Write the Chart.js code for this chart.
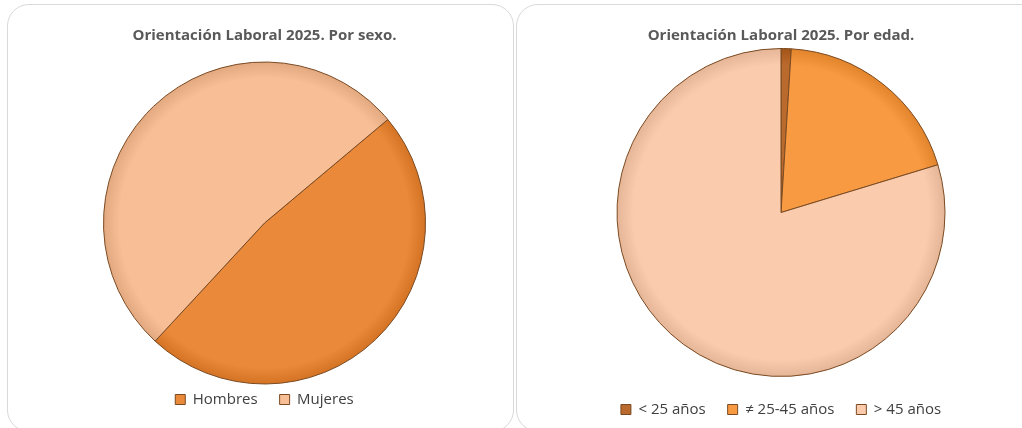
<!DOCTYPE html>
<html>
<head>
<meta charset="utf-8">
<script src="https://cdn.jsdelivr.net/npm/chart.js@4.4.1/dist/chart.umd.min.js"></script>
<style>
  html, body { margin: 0; padding: 0; background: #ffffff; }
  body { width: 1022px; height: 428px; position: relative; overflow: hidden; }
  .panel {
    position: absolute;
    top: 4px;
    height: 428px;
    border: 1.5px solid #d9d9d9;
    border-radius: 22px;
    box-sizing: border-box;
    background: #fff;
  }
  #panel-sexo { left: 7px; width: 507px; }
  #panel-edad { left: 516px; width: 530px; }
  canvas { display: block; }
</style>
</head>
<body>
<div class="panel" id="panel-sexo"><canvas id="chart-sexo"></canvas></div>
<div class="panel" id="panel-edad"><canvas id="chart-edad"></canvas></div>

<script>
// Data (percentages, estimated)
const sexoLabels = ['Hombres', 'Mujeres'];
const sexoValues = [48, 52];
const sexoColors = ['#EA893A', '#F8BF97'];

const edadLabels = ['< 25 años', '≠ 25-45 años', '> 45 años'];
const edadValues = [1, 19.3, 79.7];
const edadColors = ['#B96A2C', '#F89A42', '#FBCBAD'];

const titleSexo = 'Orientación Laboral 2025. Por sexo.';
const titleEdad = 'Orientación Laboral 2025. Por edad.';

const FONT = '"Open Sans", "Noto Sans", sans-serif';

// Soft bevel: darker rim
function shade(hex, amt) {
  const n = parseInt(hex.slice(1), 16);
  let r = (n >> 16) + amt, g = ((n >> 8) & 255) + amt, b = (n & 255) + amt;
  r = Math.max(0, Math.min(255, r));
  g = Math.max(0, Math.min(255, g));
  b = Math.max(0, Math.min(255, b));
  return `rgb(${r},${g},${b})`;
}

function radialFill(colors, radius) {
  return (context) => {
    const chart = context.chart;
    const base = colors[context.dataIndex];
    const area = chart.chartArea;
    if (!area) { return base; }
    const cx = (area.left + area.right) / 2;
    const cy = (area.top + area.bottom) / 2;
    if (!isFinite(cx) || !isFinite(cy)) { return base; }
    const g = chart.ctx.createRadialGradient(cx, cy, 0, cx, cy, radius);
    g.addColorStop(0, base);
    g.addColorStop(0.9, base);
    g.addColorStop(1, shade(base, -22));
    return g;
  };
}

function makePie(canvasId, panelId, labels, values, colors, title, opts) {
  const panel = document.getElementById(panelId);
  const canvas = document.getElementById(canvasId);
  const w = panel.clientWidth;
  const h = opts.height || panel.clientHeight;
  canvas.width = w;
  canvas.height = h;
  canvas.style.width = w + 'px';
  canvas.style.height = h + 'px';

  return new Chart(canvas.getContext('2d'), {
    type: 'pie',
    data: {
      labels: labels,
      datasets: [{
        data: values,
        radius: opts.radius,
        clip: false,
        backgroundColor: radialFill(colors, opts.radius),
        borderColor: '#7a4a22',
        borderWidth: 1
      }]
    },
    options: {
      responsive: false,
      animation: false,
      rotation: opts.rotation,
      layout: { padding: opts.padding },
      plugins: {
        title: {
          display: true,
          text: title,
          color: '#595959',
          font: { family: FONT, size: 15, weight: 'bold' },
          padding: opts.titlePadding
        },
        legend: {
          position: 'bottom',
          labels: {
            color: '#404040',
            font: { family: FONT, size: 15 },
            boxWidth: 10,
            boxHeight: 10,
            padding: opts.legendPadding,
            generateLabels: (chart) => labels.map((l, i) => ({
              text: l,
              fillStyle: colors[i],
              strokeStyle: '#7a4a22',
              lineWidth: 1,
              fontColor: '#404040',
              index: i
            }))
          }
        },
        tooltip: { enabled: false }
      }
    }
  });
}

makePie('chart-sexo', 'panel-sexo', sexoLabels, sexoValues, sexoColors, titleSexo, {
  rotation: 50,
  radius: 161,
  padding: { left: 8, right: 0, top: 0, bottom: 14 },
  titlePadding: { top: 22, bottom: 31 },
  legendPadding: 22
});

makePie('chart-edad', 'panel-edad', edadLabels, edadValues, edadColors, titleEdad, {
  rotation: 0,
  radius: 164,
  height: 440,
  padding: { left: 0, right: 0, top: 0, bottom: 18 },
  titlePadding: { top: 22, bottom: 0 },
  legendPadding: 22
});
</script>
</body>
</html>
